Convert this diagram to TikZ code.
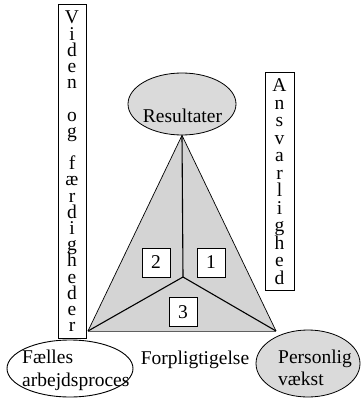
\documentclass[tikz,border=0pt]{standalone}
\usepackage{fontspec}
\setmainfont{Liberation Serif}
\usetikzlibrary{shapes.geometric}
\definecolor{trigray}{RGB}{212,212,212}
\definecolor{ellgray}{RGB}{218,218,218}
\newcommand\stackletters[2]{\vbox{\baselineskip=#1\relax\lineskiplimit=-100pt\relax\lineskip=0pt\relax\halign{\hfil##\hfil\cr#2\crcr}}}
\begin{document}
\begin{tikzpicture}[x=1pt,y=-1pt,
  txt/.style={font=\fontsize{19.5}{22}\selectfont, inner sep=0pt},
  vtext/.style={inner sep=0pt, font=\fontsize{19.5}{22}\selectfont},
  numbox/.style={draw, line width=1pt, fill=white, minimum width=28pt, minimum height=29pt, inner sep=0pt, font=\fontsize{19.5}{22}\selectfont},
  vbox/.style={draw, line width=1pt, fill=white, inner sep=0pt},
  ell/.style={ellipse, draw, line width=0.8pt, inner sep=0pt},
  edge/.style={line width=0.7pt},
  spoke/.style={line width=1.1pt}
]
\useasboundingbox (0,0) rectangle (361,401);

% Resultater ellipse
\node[ell, fill=ellgray, minimum width=108pt, minimum height=62pt] (res) at (182,104) {};
\node[txt, anchor=base] (resT) at (182.5,122) {Resultater};

% triangle
\coordinate (L) at (88,331);
\coordinate (R) at (276,331);
\coordinate (C) at (183,277);
\fill[trigray] (res.south) -- (L) -- (R) -- cycle;
\draw[edge] (L) -- (res.south) -- (R);
\draw[gray!75!black, line width=0.9pt] (L) -- (R);
\draw[spoke] (res.south) -- (C);
\draw[spoke] (C) -- (L);
\draw[spoke] (C) -- (R);

% number boxes
\node[numbox] (b2) at (156,262.5) {2};
\node[numbox] (b1) at (211,262.5) {1};
\node[numbox] (b3) at (183,312) {3};

% left vertical box
\node[vbox, minimum width=28pt, minimum height=333pt] (kbox) at (72,171.5) {};
\node[vtext] (ktext) at (72,171.5) {\stackletters{16.2pt}{V\cr i\cr d\cr e\cr n\cr \relax\cr o\cr g\cr \relax\cr f\cr æ\cr r\cr d\cr i\cr g\cr h\cr e\cr d\cr e\cr r}};

% right vertical box
\node[vbox, minimum width=29pt, minimum height=217pt] (abox) at (279.5,181.5) {};
\node[vtext] (atext) at (279.5,181.8) {\stackletters{17.5pt}{A\cr n\cr s\cr v\cr a\cr r\cr l\cr i\cr g\cr h\cr e\cr d}};

% bottom ellipses
\node[ell, fill=white, line width=0.9pt, minimum width=126pt, minimum height=57pt] (fa) at (70,368.5) {};
\node[txt, anchor=base west] (fa1) at (22,363) {Fælles};
\node[txt, anchor=base west] (fa2) at (22,386) {arbejdsproces};

\node[ell, fill=ellgray, minimum width=104pt, minimum height=67pt] (pv) at (308,363.5) {};
\node[txt, anchor=base west] (pv1) at (278,363) {Personlig};
\node[txt, anchor=base west] (pv2) at (278,385) {vækst};

\node[txt, anchor=base] (forp) at (195,364) {Forpligtigelse};
\end{tikzpicture}
\end{document}
